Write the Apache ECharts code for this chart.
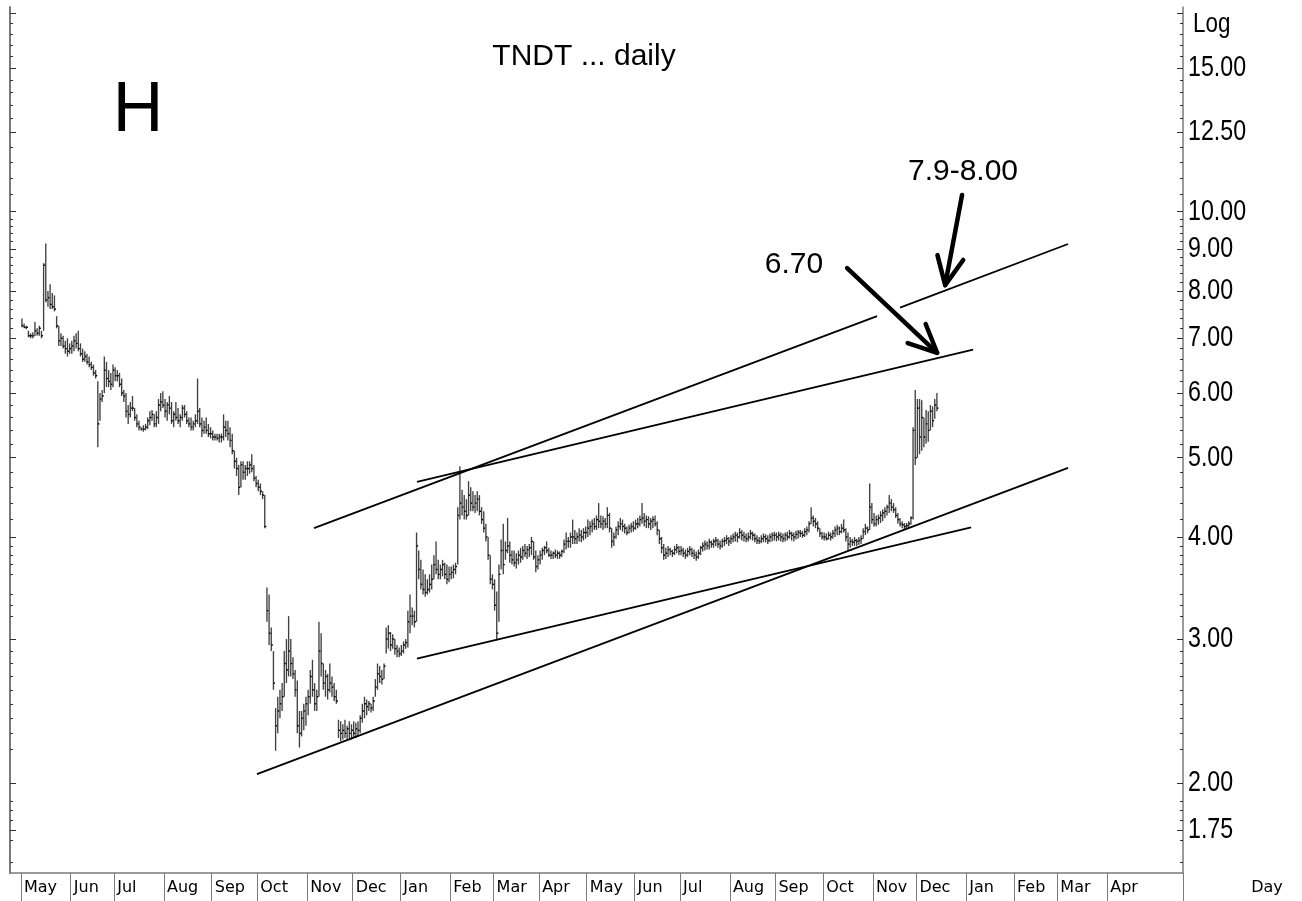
<!DOCTYPE html>
<html>
<head>
<meta charset="utf-8">
<title>TNDT daily</title>
<script src="https://cdn.jsdelivr.net/npm/echarts@6/dist/echarts.min.js"></script>
<style>
  html, body { margin: 0; padding: 0; background: #fff; }
  #chart { width: 1302px; height: 901px; }
</style>
</head>
<body>
<div id="chart"></div>
<script>
// weekday axis, first bar on 2002-05-01
var firstDay = '2002-04-24';
var lastDay = '2004-05-19';
var dataStart = '2002-05-01';
var monthNames = ['Jan', 'Feb', 'Mar', 'Apr', 'May', 'Jun', 'Jul', 'Aug', 'Sep', 'Oct', 'Nov', 'Dec'];

// daily bars, one row per month (May 02 .. Dec 03)
var highs = [
  7.40, 7.30, 7.25, 7.15, 7.10, 7.12, 7.33, 7.20, 7.25, 7.15, 8.65, 9.14, 8.00, 8.15, 7.95, 7.90, 7.45, 7.25, 7.10, 7.05, 6.95, 7.00, 6.90,
  6.95, 7.05, 7.10, 7.15, 6.90, 6.80, 6.75, 6.70, 6.65, 6.55, 6.50, 6.40, 6.20, 6.00, 6.05, 6.65, 6.55, 6.40, 6.35, 6.50,
  6.45, 6.40, 6.35, 6.25, 6.05, 6.00, 5.80, 5.85, 5.95, 5.75, 5.65, 5.55, 5.45, 5.48, 5.50, 5.60, 5.70, 5.72, 5.65, 5.70, 5.90, 6.00, 6.03,
  5.90, 5.85, 5.95, 5.85, 5.70, 5.85, 5.75, 5.65, 5.80, 5.80, 5.70, 5.60, 5.60, 5.55, 5.65, 6.25, 5.75, 5.60, 5.55, 5.60, 5.50, 5.45,
  5.40, 5.35, 5.35, 5.35, 5.35, 5.65, 5.55, 5.55, 5.45, 5.35, 5.10, 5.00, 4.90, 4.95, 4.95, 4.90, 4.95, 4.95, 5.05, 4.90, 4.75,
  4.70, 4.65, 4.55, 4.50, 3.47, 3.40, 3.10, 2.90, 2.47, 2.55, 2.60, 2.65, 2.90, 3.00, 3.20, 3.00, 2.85, 2.75, 2.67, 2.45, 2.45, 2.50, 2.55,
  2.60, 2.75, 2.83, 2.65, 2.60, 3.15, 3.05, 2.80, 2.75, 2.72, 2.80, 2.70, 2.65, 2.60, 2.39, 2.38, 2.36, 2.39, 2.35, 2.38, 2.36,
  2.38, 2.37, 2.38, 2.42, 2.50, 2.55, 2.53, 2.52, 2.50, 2.55, 2.68, 2.80, 2.78, 2.75, 2.80, 3.10, 3.12, 3.06, 3.04, 3.00, 2.95, 2.93,
  2.95, 2.98, 3.00, 3.25, 3.40, 3.28, 3.25, 4.05, 3.85, 3.75, 3.65, 3.60, 3.55, 3.60, 3.70, 3.80, 3.95, 3.75, 3.70, 3.75, 3.72, 3.70, 3.68,
  3.68, 3.70, 3.72, 4.35, 4.88, 4.57, 4.50, 4.45, 4.68, 4.60, 4.55, 4.50, 4.55, 4.50, 4.35, 4.30, 4.15, 4.00, 3.80, 3.60,
  3.55, 3.43, 3.70, 3.97, 4.15, 3.95, 4.22, 3.95, 3.85, 3.85, 3.82, 3.85, 3.88, 3.90, 3.92, 3.90, 3.92, 4.00, 3.95, 3.85, 3.80,
  3.85, 3.88, 3.90, 3.95, 3.88, 3.85, 3.84, 3.86, 3.85, 3.84, 3.86, 3.97, 4.05, 4.00, 4.05, 4.20, 4.08, 4.05, 4.10, 4.08, 4.10, 4.12,
  4.20, 4.18, 4.20, 4.22, 4.25, 4.40, 4.25, 4.24, 4.22, 4.35, 4.28, 4.10, 4.05, 4.12, 4.18, 4.22, 4.20, 4.15, 4.12, 4.14, 4.16, 4.18,
  4.20, 4.22, 4.25, 4.40, 4.28, 4.25, 4.24, 4.22, 4.24, 4.25, 4.18, 4.08, 4.00, 3.92, 3.88, 3.90, 3.88, 3.86, 3.90, 3.92, 3.90,
  3.90, 3.88, 3.86, 3.88, 3.90, 3.88, 3.86, 3.84, 3.86, 3.90, 3.94, 3.96, 3.95, 3.98, 3.96, 3.98, 4.00, 3.98, 3.96, 3.98, 4.00, 4.02, 4.00,
  4.02, 4.04, 4.06, 4.05, 4.10, 4.08, 4.06, 4.04, 4.05, 4.08, 4.06, 4.04, 4.02, 4.00, 4.02, 4.04, 4.03, 4.02, 4.04, 4.05, 4.06,
  4.05, 4.06, 4.05, 4.04, 4.05, 4.06, 4.08, 4.06, 4.05, 4.07, 4.08, 4.08, 4.07, 4.10, 4.12, 4.18, 4.35, 4.25, 4.22, 4.18, 4.10, 4.06,
  4.05, 4.04, 4.06, 4.05, 4.08, 4.12, 4.14, 4.12, 4.15, 4.20, 4.10, 4.05, 4.00, 3.98, 4.00, 3.98, 4.00, 4.02, 4.10, 4.15, 4.12, 4.65, 4.40,
  4.28, 4.25, 4.26, 4.30, 4.32, 4.35, 4.38, 4.50, 4.45, 4.40, 4.35, 4.28, 4.22, 4.18, 4.16, 4.16, 4.18, 4.24, 5.45, 6.05,
  5.90, 5.90, 5.88, 5.60, 5.72, 5.70, 5.80, 5.78, 5.90, 6.00
];
var lows = [
  7.22, 7.20, 7.18, 7.02, 7.00, 7.00, 7.05, 7.05, 7.05, 7.00, 7.15, 7.75, 7.65, 7.60, 7.60, 7.55, 7.20, 6.85, 6.85, 6.80, 6.70, 6.65, 6.70,
  6.70, 6.75, 6.80, 6.75, 6.65, 6.55, 6.55, 6.50, 6.45, 6.40, 6.30, 6.25, 5.15, 5.55, 5.85, 6.00, 6.10, 6.10, 6.05, 6.10,
  6.20, 6.20, 6.10, 5.95, 5.85, 5.60, 5.50, 5.60, 5.70, 5.55, 5.45, 5.40, 5.40, 5.38, 5.40, 5.42, 5.48, 5.55, 5.45, 5.45, 5.50, 5.70, 5.75,
  5.60, 5.55, 5.65, 5.50, 5.45, 5.55, 5.50, 5.45, 5.55, 5.60, 5.50, 5.45, 5.40, 5.40, 5.45, 5.50, 5.45, 5.30, 5.35, 5.35, 5.30, 5.28,
  5.25, 5.25, 5.25, 5.22, 5.22, 5.25, 5.30, 5.25, 5.15, 5.05, 4.85, 4.75, 4.50, 4.60, 4.70, 4.70, 4.75, 4.78, 4.80, 4.68, 4.60,
  4.55, 4.50, 4.45, 4.10, 3.15, 2.95, 2.90, 2.60, 2.19, 2.30, 2.40, 2.45, 2.55, 2.65, 2.70, 2.70, 2.68, 2.55, 2.30, 2.21, 2.28, 2.32, 2.35,
  2.42, 2.50, 2.55, 2.45, 2.45, 2.55, 2.70, 2.60, 2.55, 2.53, 2.58, 2.55, 2.52, 2.50, 2.27, 2.25, 2.26, 2.27, 2.26, 2.27, 2.26,
  2.27, 2.27, 2.28, 2.30, 2.37, 2.40, 2.42, 2.45, 2.44, 2.45, 2.55, 2.60, 2.65, 2.64, 2.68, 2.88, 2.92, 2.90, 2.92, 2.87, 2.85, 2.85,
  2.86, 2.88, 2.92, 2.93, 3.05, 3.12, 3.10, 3.15, 3.55, 3.45, 3.40, 3.38, 3.40, 3.42, 3.45, 3.55, 3.60, 3.55, 3.55, 3.58, 3.55, 3.50, 3.52,
  3.55, 3.56, 3.60, 3.70, 4.20, 4.25, 4.20, 4.20, 4.25, 4.30, 4.30, 4.28, 4.30, 4.25, 4.15, 4.05, 3.95, 3.75, 3.50, 3.45,
  3.25, 2.99, 3.15, 3.65, 3.60, 3.75, 3.82, 3.72, 3.70, 3.68, 3.66, 3.70, 3.72, 3.75, 3.78, 3.76, 3.78, 3.80, 3.75, 3.62, 3.65,
  3.70, 3.75, 3.80, 3.82, 3.78, 3.76, 3.76, 3.77, 3.76, 3.76, 3.78, 3.82, 3.86, 3.88, 3.88, 3.92, 3.92, 3.92, 3.95, 3.94, 3.96, 3.98,
  4.00, 4.02, 4.05, 4.08, 4.08, 4.10, 4.10, 4.08, 4.10, 4.10, 4.05, 3.88, 3.90, 3.98, 4.02, 4.08, 4.06, 4.04, 4.02, 4.04, 4.05, 4.06,
  4.08, 4.10, 4.12, 4.15, 4.12, 4.10, 4.10, 4.08, 4.10, 4.12, 4.02, 3.92, 3.82, 3.75, 3.76, 3.78, 3.80, 3.78, 3.80, 3.82, 3.80,
  3.80, 3.78, 3.76, 3.78, 3.80, 3.78, 3.76, 3.74, 3.76, 3.80, 3.84, 3.85, 3.86, 3.86, 3.88, 3.88, 3.90, 3.88, 3.86, 3.88, 3.90, 3.92, 3.90,
  3.92, 3.94, 3.95, 3.94, 3.98, 3.96, 3.95, 3.94, 3.95, 3.97, 3.96, 3.94, 3.92, 3.92, 3.93, 3.94, 3.94, 3.92, 3.94, 3.95, 3.96,
  3.95, 3.96, 3.95, 3.94, 3.95, 3.96, 3.98, 3.96, 3.95, 3.97, 3.98, 4.00, 3.99, 4.00, 4.02, 4.05, 4.15, 4.12, 4.10, 4.06, 4.00, 3.97,
  3.96, 3.96, 3.97, 3.96, 3.98, 4.00, 4.02, 4.02, 4.04, 4.05, 3.95, 3.85, 3.88, 3.90, 3.90, 3.90, 3.91, 3.92, 3.98, 4.02, 4.04, 4.08, 4.15,
  4.12, 4.12, 4.14, 4.16, 4.18, 4.22, 4.25, 4.28, 4.30, 4.28, 4.22, 4.15, 4.12, 4.10, 4.08, 4.10, 4.10, 4.14, 4.20, 4.90,
  5.00, 5.05, 5.10, 5.15, 5.20, 5.23, 5.40, 5.45, 5.58, 5.70
];
var closes = [
  7.25, 7.22, 7.22, 7.05, 7.05, 7.05, 7.15, 7.10, 7.20, 7.05, 8.60, 7.80, 7.85, 7.70, 7.65, 7.60, 7.25, 6.95, 7.00, 6.85, 6.80, 6.75, 6.80,
  6.85, 6.95, 6.90, 6.80, 6.70, 6.60, 6.65, 6.55, 6.50, 6.45, 6.35, 6.30, 5.50, 5.90, 5.95, 6.40, 6.25, 6.20, 6.15, 6.40,
  6.30, 6.30, 6.15, 6.00, 5.95, 5.70, 5.65, 5.75, 5.75, 5.60, 5.50, 5.45, 5.42, 5.42, 5.45, 5.55, 5.60, 5.65, 5.50, 5.60, 5.80, 5.85, 5.80,
  5.70, 5.80, 5.75, 5.55, 5.65, 5.60, 5.55, 5.60, 5.75, 5.65, 5.55, 5.50, 5.45, 5.50, 5.55, 5.70, 5.50, 5.40, 5.45, 5.40, 5.35, 5.35,
  5.30, 5.30, 5.28, 5.30, 5.30, 5.45, 5.40, 5.35, 5.25, 5.10, 4.95, 4.85, 4.60, 4.90, 4.80, 4.85, 4.85, 4.90, 4.85, 4.72, 4.65,
  4.60, 4.55, 4.50, 4.12, 3.25, 3.05, 2.95, 2.65, 2.35, 2.45, 2.50, 2.55, 2.80, 2.75, 2.90, 2.80, 2.72, 2.60, 2.35, 2.30, 2.40, 2.45, 2.50,
  2.55, 2.70, 2.60, 2.50, 2.55, 2.90, 2.80, 2.65, 2.70, 2.60, 2.65, 2.62, 2.55, 2.52, 2.32, 2.30, 2.32, 2.30, 2.33, 2.30, 2.32,
  2.30, 2.33, 2.32, 2.40, 2.45, 2.50, 2.48, 2.50, 2.47, 2.52, 2.62, 2.72, 2.70, 2.68, 2.78, 3.00, 3.05, 2.95, 3.00, 2.92, 2.90, 2.88,
  2.90, 2.95, 2.97, 3.15, 3.20, 3.20, 3.15, 3.90, 3.65, 3.50, 3.45, 3.42, 3.45, 3.50, 3.55, 3.70, 3.65, 3.60, 3.65, 3.70, 3.60, 3.55, 3.60,
  3.62, 3.65, 3.68, 4.25, 4.40, 4.35, 4.30, 4.25, 4.50, 4.40, 4.35, 4.40, 4.45, 4.30, 4.20, 4.10, 4.00, 3.80, 3.55, 3.50,
  3.30, 3.05, 3.60, 3.85, 3.70, 3.85, 3.90, 3.80, 3.75, 3.72, 3.75, 3.80, 3.78, 3.85, 3.82, 3.86, 3.88, 3.95, 3.78, 3.68, 3.75,
  3.80, 3.85, 3.88, 3.85, 3.80, 3.80, 3.82, 3.80, 3.82, 3.80, 3.84, 3.92, 3.95, 3.95, 4.00, 4.00, 3.98, 4.00, 4.02, 4.00, 4.05, 4.05,
  4.10, 4.12, 4.15, 4.12, 4.20, 4.18, 4.15, 4.18, 4.15, 4.25, 4.10, 3.95, 4.00, 4.08, 4.12, 4.15, 4.12, 4.10, 4.05, 4.10, 4.12, 4.10,
  4.15, 4.15, 4.20, 4.22, 4.18, 4.20, 4.15, 4.18, 4.20, 4.15, 4.08, 3.98, 3.88, 3.80, 3.82, 3.86, 3.84, 3.82, 3.86, 3.88, 3.84,
  3.85, 3.82, 3.80, 3.84, 3.86, 3.82, 3.80, 3.78, 3.82, 3.88, 3.90, 3.92, 3.90, 3.94, 3.92, 3.95, 3.96, 3.92, 3.90, 3.95, 3.96, 3.98, 3.95,
  3.98, 4.00, 4.02, 4.00, 4.05, 4.02, 4.00, 3.98, 4.00, 4.04, 4.02, 3.98, 3.96, 3.95, 3.98, 4.00, 3.98, 3.96, 4.00, 4.02, 4.02,
  4.00, 4.02, 4.00, 3.98, 4.02, 4.00, 4.04, 4.02, 4.00, 4.03, 4.05, 4.04, 4.02, 4.06, 4.08, 4.15, 4.22, 4.18, 4.15, 4.10, 4.04, 4.00,
  4.00, 3.98, 4.02, 4.00, 4.04, 4.08, 4.10, 4.06, 4.10, 4.08, 4.00, 3.92, 3.95, 3.94, 3.96, 3.95, 3.96, 3.98, 4.06, 4.10, 4.08, 4.35, 4.20,
  4.15, 4.20, 4.22, 4.25, 4.28, 4.30, 4.35, 4.40, 4.35, 4.32, 4.25, 4.20, 4.15, 4.14, 4.12, 4.13, 4.15, 4.22, 5.40, 5.00,
  5.75, 5.30, 5.60, 5.30, 5.50, 5.40, 5.70, 5.55, 5.80, 5.75
];

// trend lines: [day index, price, day index, price]
var trendLines = [
  [139.7, 4.10, 399.4, 7.45],
  [410.0, 7.63, 487.5, 9.13],
  [187.2, 4.67, 443.7, 6.78],
  [113.4, 2.05, 487.5, 4.86],
  [187.2, 2.84, 442.8, 4.11]
];
// arrows: tail then tip
var arrows = [
  [438.6, 10.48, 430.8, 8.13],
  [385.6, 8.53, 427.1, 6.72]
];

var yLabelValues = [1.75, 2, 3, 4, 5, 6, 7, 8, 9, 10, 12.5, 15];
var yMajorTicks = [1.75, 2, 3, 4, 5, 6, 7, 8, 9, 10, 12.5, 15, 17.5];
var yMinorTicks = [1.6, 1.7, 1.8, 1.85, 1.9, 2.2, 2.3, 2.4, 2.5, 2.6, 2.7, 2.8, 2.9,
  3.2, 3.3, 3.4, 3.6, 3.7, 3.8, 3.9, 4.2, 4.4, 4.6, 4.8, 5.2, 5.4, 5.6, 5.8,
  6.2, 6.4, 6.6, 6.8, 7.2, 7.4, 7.6, 7.8, 8.2, 8.4, 8.6, 8.8, 9.2, 9.4, 9.6, 9.8,
  10.5, 11, 11.5, 12, 13, 13.5, 14, 14.5, 15.5, 16, 16.5, 17];
var yMin = 1.552, yMax = 17.8;

function weekdays(from, to) {
  var out = [];
  var d = new Date(from + 'T00:00:00Z');
  var end = new Date(to + 'T00:00:00Z');
  while (d <= end) {
    var w = d.getUTCDay();
    if (w !== 0 && w !== 6) out.push(d.toISOString().slice(0, 10));
    d.setUTCDate(d.getUTCDate() + 1);
  }
  return out;
}

var days = weekdays(firstDay, lastDay);
var startIdx = days.indexOf(dataStart);
var bars = highs.map(function (h, k) {
  return [startIdx + k, h, lows[k], closes[k]];
});

function isMonthStart(idx, value) {
  if (idx === 0 || idx > days.length - 15) return false;
  return value.slice(5, 7) !== days[idx - 1].slice(5, 7);
}

var axisGray = '#7a7a7a';
var sansFont = '"Liberation Sans", Arial, sans-serif';
var monthFont = '"DejaVu Sans", Verdana, sans-serif';
var narrowScale = 0.8; // axis text in the original is a narrow face

function logAxis(pos, ticks, len, showLine) {
  return {
    type: 'log',
    position: pos,
    min: yMin,
    max: yMax,
    axisLine: { show: showLine, onZero: false, lineStyle: { color: axisGray, width: pos === 'left' ? 2 : 1.5 } },
    axisTick: { show: true, inside: true, length: len, customValues: ticks, lineStyle: { color: '#333', width: 1 } },
    axisLabel: { show: false },
    splitLine: { show: false },
    minorTick: { show: false }
  };
}

var chart = echarts.init(document.getElementById('chart'));
chart.setOption({
  animation: false,
  backgroundColor: '#fff',
  grid: { left: 10, right: 119, top: 7, bottom: 28 },
  xAxis: [{
    type: 'category',
    data: days,
    boundaryGap: true,
    axisLine: { onZero: false, lineStyle: { color: axisGray, width: 1.5 } },
    axisTick: { show: true, interval: isMonthStart, length: 28, lineStyle: { color: axisGray, width: 1 } },
    axisLabel: {
      interval: isMonthStart,
      formatter: function (v) { return monthNames[+v.slice(5, 7) - 1]; },
      align: 'left',
      margin: 7,
      padding: [0, 0, 0, 2],
      color: '#000',
      fontFamily: monthFont,
      fontSize: 16
    },
    splitLine: { show: false }
  }, {
    type: 'value',
    min: -0.5,
    max: days.length - 0.5,
    show: false,
    axisLine: { onZero: false }
  }],
  yAxis: [
    logAxis('right', yMajorTicks, 6, true),
    logAxis('right', yMinorTicks, 3, false),
    logAxis('left', yMajorTicks, 6, true),
    logAxis('left', yMinorTicks, 3, false)
  ],
  series: [{
    type: 'custom',
    name: 'TNDT',
    xAxisIndex: 0,
    yAxisIndex: 0,
    silent: true,
    encode: { x: 0, y: [1, 2] },
    data: bars,
    renderItem: function (params, api) {
      var x = api.value(0);
      var top = api.coord([x, api.value(1)]);
      var bot = api.coord([x, api.value(2)]);
      var cl = api.coord([x, api.value(3)]);
      return {
        type: 'group',
        children: [
          { type: 'line', shape: { x1: top[0], y1: top[1], x2: bot[0], y2: bot[1] }, style: { stroke: '#404040', lineWidth: 1.35 } },
          { type: 'line', shape: { x1: cl[0], y1: cl[1], x2: cl[0] + 1.6, y2: cl[1] }, style: { stroke: '#000', lineWidth: 1.4 } }
        ]
      };
    }
  }, {
    type: 'custom',
    name: 'trend',
    xAxisIndex: 1,
    yAxisIndex: 0,
    silent: true,
    encode: { x: [0, 2], y: [1, 3] },
    data: trendLines,
    renderItem: function (params, api) {
      var a = api.coord([api.value(0), api.value(1)]);
      var b = api.coord([api.value(2), api.value(3)]);
      return { type: 'line', shape: { x1: a[0], y1: a[1], x2: b[0], y2: b[1] }, style: { stroke: '#000', lineWidth: 1.8 } };
    }
  }, {
    type: 'custom',
    name: 'arrows',
    xAxisIndex: 1,
    yAxisIndex: 0,
    silent: true,
    encode: { x: [0, 2], y: [1, 3] },
    data: arrows,
    renderItem: function (params, api) {
      var a = api.coord([api.value(0), api.value(1)]);
      var b = api.coord([api.value(2), api.value(3)]);
      var ang = Math.atan2(a[1] - b[1], a[0] - b[0]);
      var len = 31, spread = 25 * Math.PI / 180;
      var p1 = [b[0] + len * Math.cos(ang - spread), b[1] + len * Math.sin(ang - spread)];
      var p2 = [b[0] + len * Math.cos(ang + spread), b[1] + len * Math.sin(ang + spread)];
      var st = { stroke: '#000', lineWidth: 4.5, lineCap: 'round', lineJoin: 'round', fill: null };
      return {
        type: 'group',
        children: [
          { type: 'line', shape: { x1: a[0], y1: a[1], x2: b[0], y2: b[1] }, style: st },
          { type: 'polyline', shape: { points: [p1, b, p2] }, style: st }
        ]
      };
    }
  }]
});

// price labels: placed with the right axis scale, drawn narrow like the original face
var axisX = chart.convertToPixel({ xAxisIndex: 1 }, days.length - 0.5);
var priceLabels = yLabelValues.map(function (v) {
  return {
    type: 'text',
    x: axisX + 5,
    y: chart.convertToPixel({ yAxisIndex: 0 }, v),
    scaleX: narrowScale,
    style: { text: v.toFixed(2), fontFamily: sansFont, fontSize: 29, fill: '#000', align: 'left', verticalAlign: 'middle' }
  };
});

chart.setOption({
  graphic: priceLabels.concat([
    { type: 'text', x: axisX + 10, y: 24, scaleX: narrowScale, style: { text: 'Log', fontFamily: sansFont, fontSize: 28, fill: '#000', align: 'left', verticalAlign: 'middle' } },
    { type: 'text', x: 584, y: 57, style: { text: 'TNDT ... daily', fontFamily: sansFont, fontSize: 30, fill: '#000', align: 'center', verticalAlign: 'middle' } },
    { type: 'text', x: 138, y: 112, style: { text: 'H', fontFamily: sansFont, fontSize: 70, fill: '#000', align: 'center', verticalAlign: 'middle' } },
    { type: 'text', x: 963, y: 172, style: { text: '7.9-8.00', fontFamily: sansFont, fontSize: 30, fill: '#000', align: 'center', verticalAlign: 'middle' } },
    { type: 'text', x: 794, y: 265, style: { text: '6.70', fontFamily: sansFont, fontSize: 30, fill: '#000', align: 'center', verticalAlign: 'middle' } },
    { type: 'text', x: 1267, y: 888, style: { text: 'Day', fontFamily: monthFont, fontSize: 16, fill: '#000', align: 'center', verticalAlign: 'middle' } }
  ])
});
</script>
</body>
</html>
